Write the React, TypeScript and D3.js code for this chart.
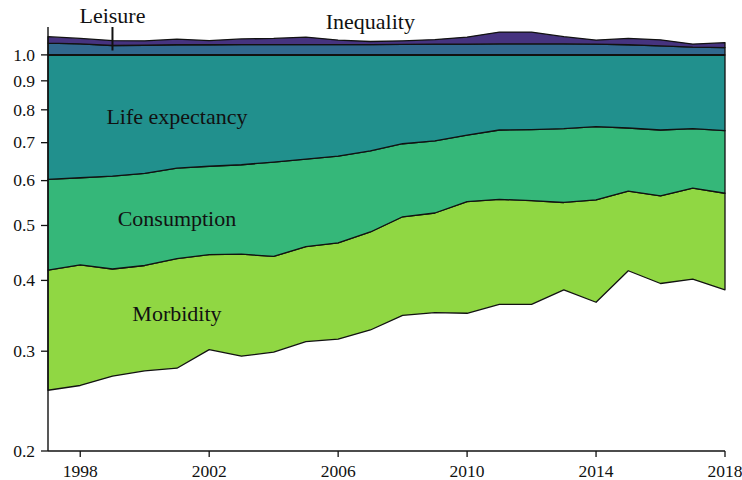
import React from "react";
import * as d3 from "d3";

const years = [1997, 1998, 1999, 2000, 2001, 2002, 2003, 2004, 2005, 2006, 2007, 2008, 2009, 2010, 2011, 2012, 2013, 2014, 2015, 2016, 2017, 2018];

// cumulative boundaries of the stacked (log-scale) decomposition
const baseline = [0.256, 0.261, 0.271, 0.277, 0.280, 0.302, 0.294, 0.299, 0.312, 0.315, 0.327, 0.347, 0.351, 0.350, 0.363, 0.363, 0.385, 0.366, 0.416, 0.395, 0.402, 0.385];
const morbidityTop = [0.417, 0.426, 0.419, 0.425, 0.437, 0.444, 0.445, 0.441, 0.459, 0.466, 0.487, 0.518, 0.526, 0.551, 0.556, 0.553, 0.549, 0.555, 0.575, 0.564, 0.582, 0.570];
const consumptionTop = [0.603, 0.607, 0.611, 0.618, 0.631, 0.636, 0.640, 0.647, 0.655, 0.663, 0.677, 0.697, 0.705, 0.722, 0.737, 0.738, 0.741, 0.747, 0.743, 0.737, 0.741, 0.735];
const lifeExpTop = [1, 1, 1, 1, 1, 1, 1, 1, 1, 1, 1, 1, 1, 1, 1, 1, 1, 1, 1, 1, 1, 1];
const leisureTop = [1.049, 1.046, 1.039, 1.040, 1.042, 1.042, 1.043, 1.043, 1.043, 1.043, 1.043, 1.044, 1.045, 1.045, 1.046, 1.046, 1.046, 1.045, 1.042, 1.037, 1.032, 1.030];
const inequalityTop = [1.077, 1.069, 1.060, 1.059, 1.066, 1.060, 1.067, 1.069, 1.075, 1.062, 1.056, 1.059, 1.064, 1.075, 1.097, 1.097, 1.077, 1.062, 1.069, 1.063, 1.045, 1.051];

const layerNames = ["Morbidity", "Consumption", "Life expectancy", "Leisure", "Inequality"];
const layerColors = ["#90d743", "#35b779", "#21908d", "#31688e", "#46337f"];
const boundaries = [baseline, morbidityTop, consumptionTop, lifeExpTop, leisureTop, inequalityTop];

const yTicks = [0.2, 0.3, 0.4, 0.5, 0.6, 0.7, 0.8, 0.9, 1.0];
const yTickLabels = ["0.2", "0.3", "0.4", "0.5", "0.6", "0.7", "0.8", "0.9", "1.0"];
const xTicks = [1998, 2002, 2006, 2010, 2014, 2018];

const W = 742;
const H = 480;
const FONT = '"Liberation Serif", "DejaVu Serif", "Times New Roman", Times, serif';

export default function App() {
  const x = d3.scaleLinear().domain([1997, 2018]).range([48, 725]);
  const y = d3.scaleLog().domain([0.2, 1.12]).range([451, 27]);

  const layers = layerNames.map((name, k) => {
    const lo = boundaries[k];
    const hi = boundaries[k + 1];
    const area = d3
      .area<number>()
      .x((_, i) => x(years[i]))
      .y0((_, i) => y(lo[i]))
      .y1((_, i) => y(hi[i]));
    return { name, color: layerColors[k], d: area(years) as string };
  });

  const tickStyle = { fontFamily: FONT, fontSize: "17.5px" } as React.CSSProperties;
  const labelStyle = { fontFamily: FONT, fontSize: "22px" } as React.CSSProperties;

  return (
    <svg width={W} height={H} style={{ position: "absolute", left: 0, top: 0, background: "#fff" }}>
      {layers.map((l) => (
        <path key={l.name} d={l.d} fill={l.color} stroke="#111" strokeWidth={1.3} strokeLinejoin="round" />
      ))}
      {/* 1.0 reference line */}
      <line x1={x(1997)} x2={x(2018)} y1={y(1)} y2={y(1)} stroke="#111" strokeWidth={2} />

      {/* axes */}
      <line x1={48} x2={48} y1={y(1.12)} y2={y(0.2)} stroke="#111" strokeWidth={1.4} />
      <line x1={48} x2={725} y1={y(0.2)} y2={y(0.2)} stroke="#111" strokeWidth={1.4} />
      {yTicks.map((t, i) => (
        <g key={t}>
          <line x1={41} x2={48} y1={y(t)} y2={y(t)} stroke="#111" strokeWidth={1.3} />
          <text x={35} y={y(t)} dy="0.33em" textAnchor="end" style={tickStyle} fill="#111">
            {yTickLabels[i]}
          </text>
        </g>
      ))}
      {xTicks.map((t) => (
        <g key={t}>
          <line x1={x(t)} x2={x(t)} y1={451} y2={457} stroke="#111" strokeWidth={1.3} />
          <text x={x(t)} y={476.5} textAnchor="middle" style={tickStyle} fill="#111">
            {t}
          </text>
        </g>
      ))}

      {/* labels */}
      <text x={x(2001)} y={123.5} textAnchor="middle" style={labelStyle} fill="#111">Life expectancy</text>
      <text x={x(2001)} y={226} textAnchor="middle" style={labelStyle} fill="#111">Consumption</text>
      <text x={x(2001)} y={321} textAnchor="middle" style={labelStyle} fill="#111">Morbidity</text>
      <text x={x(1999)} y={23} textAnchor="middle" style={labelStyle} fill="#111">Leisure</text>
      <text x={x(2007)} y={28.5} textAnchor="middle" style={labelStyle} fill="#111">Inequality</text>
      <line x1={x(1999)} x2={x(1999)} y1={27} y2={50.5} stroke="#111" strokeWidth={2} />
    </svg>
  );
}
